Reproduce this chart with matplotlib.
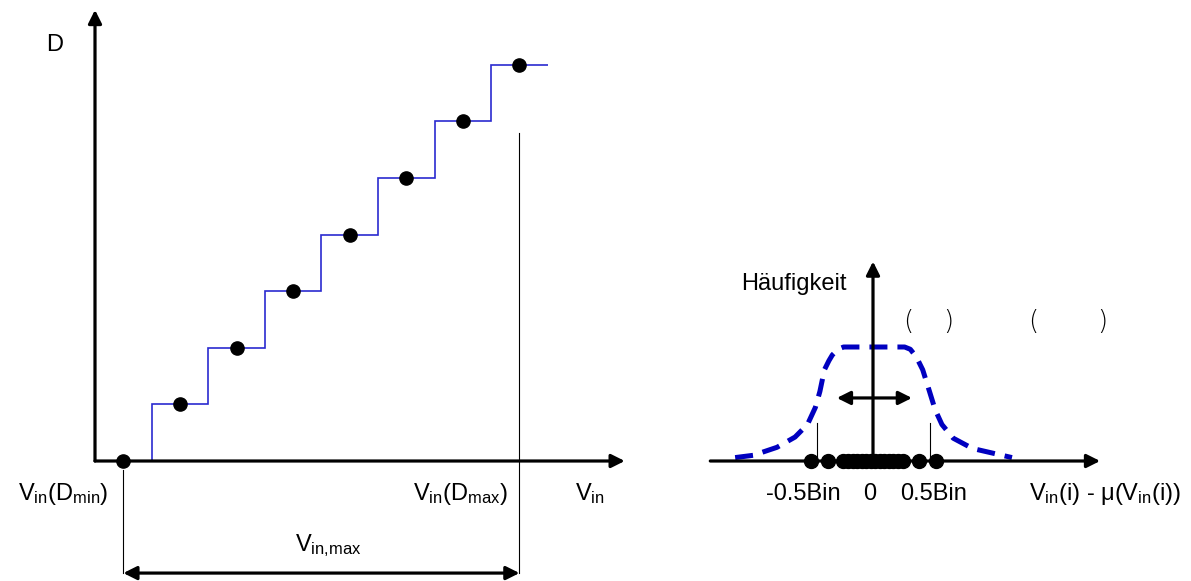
import matplotlib
matplotlib.use('Agg')
import matplotlib.pyplot as plt

plt.rcParams['font.family'] = ['Liberation Sans', 'DejaVu Sans']
plt.rcParams['mathtext.fontset'] = 'custom'
plt.rcParams['mathtext.rm'] = 'Liberation Sans'
plt.rcParams['mathtext.it'] = 'Liberation Sans'
plt.rcParams['mathtext.default'] = 'regular'

# left diagram: transfer curve of the quantizer (x in LSB, y in codes)
codes = [0, 1, 2, 3, 4, 5, 6, 7]
step_edges = [0, 1, 2, 3, 4, 5, 6, 7, 8]
dot_x = [0.5, 1.5, 2.5, 3.5, 4.5, 5.5, 6.5, 7.5]
left_labels = [r'$V_{in}(D_{min})$', r'$V_{in}(D_{max})$', r'$V_{in}$']
range_label = r'$V_{in{,}max}$'

# right diagram: distribution of Vin(i) - mu(Vin(i)) (x in Bin)
curve_x = [-1.22, -1.06, -0.85, -0.69, -0.58, -0.51, -0.47, -0.43, -0.39, -0.36, -0.31, -0.26,
           0.0,
           0.28, 0.33, 0.37, 0.40, 0.44, 0.50, 0.55, 0.61, 0.71, 0.88, 1.23]
curve_y = [0.03, 0.05, 0.12, 0.21, 0.32, 0.47, 0.61, 0.80, 0.88, 0.93, 0.98, 1.0,
           1.0,
           1.0, 0.98, 0.93, 0.88, 0.80, 0.61, 0.45, 0.32, 0.20, 0.11, 0.03]
samples = [-0.55, -0.40, -0.265, -0.22, -0.18, -0.14, -0.10, -0.06, -0.02,
           0.02, 0.06, 0.10, 0.14, 0.18, 0.22, 0.265, 0.41, 0.56]
tick_pos = [-0.5, 0.0, 0.5]
tick_labels = ['-0.5Bin', '0', '0.5Bin']
right_xlabel = r'$V_{in}$(i) - μ($V_{in}$(i))'
right_ylabel = 'Häufigkeit'

W, H = 1191, 581
fig = plt.figure(figsize=(W / 100, H / 100), dpi=100)

FS = 17
AX_LW = 2.3
arrow = dict(arrowstyle='-|>', color='black', lw=AX_LW, shrinkA=0, shrinkB=0,
             mutation_scale=20)
darrow = dict(arrowstyle='<|-|>', color='black', lw=AX_LW, shrinkA=0, shrinkB=0,
              mutation_scale=20)

# ---- left diagram ----
U = 56.6  # pixels per LSB / per code
ax = fig.add_axes([0, 0, 1, 1])
ax.set_xlim(-95 / U, (W - 95) / U)
ax.set_ylim((461 - H) / U, 461 / U)
ax.axis('off')

ax.annotate('', xy=(0, 7.97), xytext=(0, 0), arrowprops=arrow)
ax.annotate('', xy=(9.36, 0), xytext=(0, 0), arrowprops=arrow)
ax.text(-0.71, 7.35, 'D', fontsize=FS, ha='center', va='center')

ax.stairs(codes, step_edges, baseline=None, color='#2a2ad0', lw=1.2)
ax.plot(dot_x, codes, 'o', color='black', ms=9.5, zorder=5)

ax.plot([dot_x[0], dot_x[0]], [-0.16, -1.98], color='black', lw=0.8)
ax.plot([dot_x[-1], dot_x[-1]], [5.8, -1.98], color='black', lw=0.8)
ax.annotate('', xy=(dot_x[0], -1.98), xytext=(dot_x[-1], -1.98), arrowprops=darrow)
ax.text(4.12, -1.50, range_label, fontsize=FS, ha='center', va='center')

for xl, s in zip([-0.56, 6.45, 8.75], left_labels):
    ax.text(xl, -0.58, s, fontsize=FS, ha='center', va='center')

# ---- right diagram ----
BX, BY = 113.0, 114.0
ax2 = fig.add_axes([0, 0, 1, 1])
ax2.patch.set_visible(False)
ax2.set_xlim(-873 / BX, (W - 873) / BX)
ax2.set_ylim((461 - H) / BY, 461 / BY)
ax2.axis('off')

ax2.annotate('', xy=(2.01, 0), xytext=(-1.44, 0), arrowprops=arrow)
ax2.annotate('', xy=(0, 1.75), xytext=(0, 0), arrowprops=arrow)
ax2.text(-0.70, 1.55, right_ylabel, fontsize=FS, ha='center', va='center')

ax2.plot(curve_x, curve_y, color='#0000c0', lw=3.6, dashes=(3.6, 2.0),
         solid_joinstyle='round')
ax2.annotate('', xy=(-0.32, 0.553), xytext=(0.345, 0.553), arrowprops=darrow)
for t in [-0.5, 0.5]:
    ax2.plot([t, t], [0, 0.333], color='black', lw=0.8)
ax2.plot(samples, [0] * len(samples), 'o', color='black', ms=10, zorder=5)

for xl, s in zip([-0.62, -0.027, 0.54], tick_labels):
    ax2.text(xl, -0.29, s, fontsize=FS, ha='center', va='center')
ax2.text(2.05, -0.29, right_xlabel, fontsize=FS, ha='center', va='center')

for xl, s in zip([0.31, 0.664, 1.416, 2.027], ['(', ')', '(', ')']):
    ax2.text(xl, 1.22, s, fontsize=19, family='DejaVu Sans',
             fontweight='light', ha='center', va='center')

fig.savefig('out.png', dpi=100)
